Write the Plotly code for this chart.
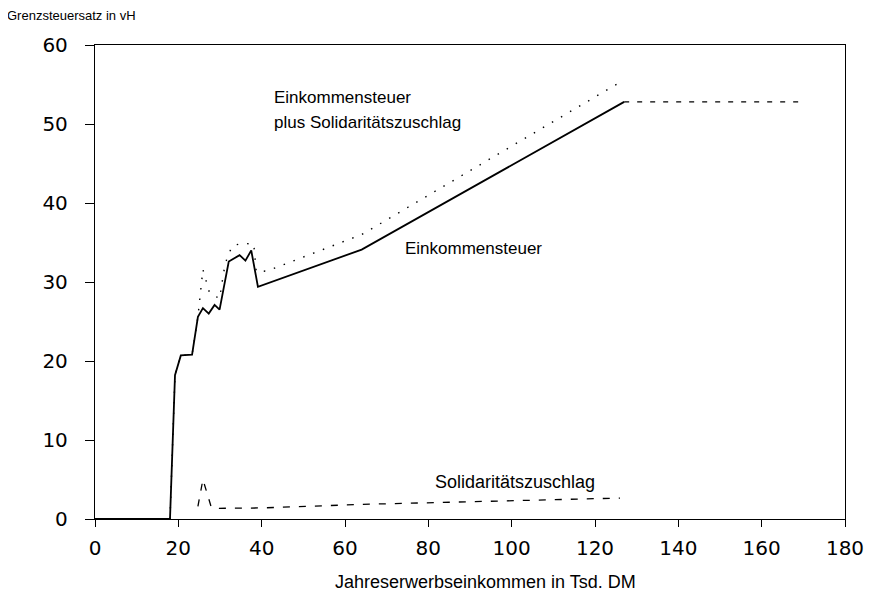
import plotly.graph_objects as go

# Einkommensteuer (Grenzsteuersatz, vH) by Jahreserwerbseinkommen (Tsd. DM)
est_x = [0, 18.0, 19.2, 20.6, 23.3, 24.7, 25.9, 27.3, 28.7, 29.9, 32.1, 34.7, 36.1, 37.5, 39.1, 64.0, 127.0]
est_y = [0, 0.0, 18.2, 20.7, 20.8, 25.6, 26.7, 26.0, 27.1, 26.5, 32.6, 33.4, 32.7, 34.0, 29.4, 34.1, 52.8]

# Einkommensteuer beyond the upper bracket limit (drawn broken in the original)
est_top_x = [127.0, 170.0]
est_top_y = [52.8, 52.8]

# Einkommensteuer plus Solidaritätszuschlag
sum_x = [18.0, 19.2, 20.6, 23.3, 24.7, 25.1, 25.4, 25.9, 26.2, 26.7, 27.5, 29.9, 30.9, 31.7, 33.0, 35.5, 38.1, 38.7, 41.3, 64.0, 127.0]
sum_y = [0.0, 18.2, 20.7, 20.8, 25.6, 27.6, 29.2, 31.6, 31.0, 30.0, 28.6, 27.9, 31.3, 33.1, 34.6, 34.9, 34.8, 31.3, 31.4, 36.0, 55.6]

# Solidaritätszuschlag
soli_x = [24.7, 25.9, 27.9, 29.0, 40.0, 64.0, 126.0]
soli_y = [1.6, 5.0, 1.5, 1.35, 1.4, 1.85, 2.65]

x_ticks = [0, 20, 40, 60, 80, 100, 120, 140, 160, 180]
y_ticks = [0, 10, 20, 30, 40, 50, 60]

FONT = "Liberation Sans, Arial, sans-serif"
TICK_FONT = "DejaVu Sans, sans-serif"

fig = go.Figure()
fig.add_trace(go.Scatter(x=sum_x, y=sum_y, mode="lines",
                         line=dict(color="black", width=1.4, dash="1.5px,9px")))
fig.add_trace(go.Scatter(x=soli_x, y=soli_y, mode="lines",
                         line=dict(color="black", width=1.3, dash="7px,9px")))
fig.add_trace(go.Scatter(x=est_top_x, y=est_top_y, mode="lines",
                         line=dict(color="black", width=1.3, dash="5px,8px")))
fig.add_trace(go.Scatter(x=est_x, y=est_y, mode="lines",
                         line=dict(color="black", width=1.8)))

ann_font = dict(family=FONT, size=17, color="black")
fig.add_annotation(x=42.5, y=53.4, text="Einkommensteuer", showarrow=False,
                   xanchor="left", yanchor="middle", font=ann_font)
fig.add_annotation(x=42.5, y=50.2, text="plus Solidaritätszuschlag", showarrow=False,
                   xanchor="left", yanchor="middle", font=ann_font)
fig.add_annotation(x=73.8, y=34.2, text="Einkommensteuer", showarrow=False,
                   xanchor="left", yanchor="middle", font=ann_font)
fig.add_annotation(x=81.0, y=4.7, text="Solidaritätszuschlag", showarrow=False,
                   xanchor="left", yanchor="middle", font=dict(family=FONT, size=18, color="black"))

fig.add_annotation(xref="paper", yref="paper", x=-0.12, y=1.063,
                   text="Grenzsteuersatz in vH", showarrow=False,
                   xanchor="left", yanchor="middle",
                   font=dict(family=FONT, size=13, color="black"))
fig.add_annotation(xref="paper", yref="paper", x=0.52, y=-0.133,
                   text="Jahreserwerbseinkommen in Tsd. DM", showarrow=False,
                   xanchor="center", yanchor="middle",
                   font=dict(family=FONT, size=18, color="black"))

fig.update_xaxes(range=[0, 180], tickvals=x_ticks, ticktext=[str(v) for v in x_ticks],
                 showgrid=False, zeroline=False, showline=True, linecolor="black",
                 linewidth=1.3, mirror=True, ticks="outside", ticklen=7,
                 tickcolor="black", tickwidth=1.2, ticklabelstandoff=4,
                 tickfont=dict(family=TICK_FONT, size=20, color="black"))
fig.update_yaxes(range=[0, 60], tickvals=y_ticks, ticktext=[str(v) for v in y_ticks],
                 showgrid=False, zeroline=False, showline=True, linecolor="black",
                 linewidth=1.3, mirror=True, ticks="outside", ticklen=9,
                 tickcolor="black", tickwidth=1.2, ticklabelstandoff=13,
                 tickfont=dict(family=TICK_FONT, size=20, color="black"))

# the page body adds an 8 px offset, so margins are shifted to keep the plot area in place
fig.update_layout(width=872, height=611, showlegend=False,
                  paper_bgcolor="white", plot_bgcolor="white",
                  margin=dict(l=87, r=35, t=37, b=100))

fig.write_html("out.html")
